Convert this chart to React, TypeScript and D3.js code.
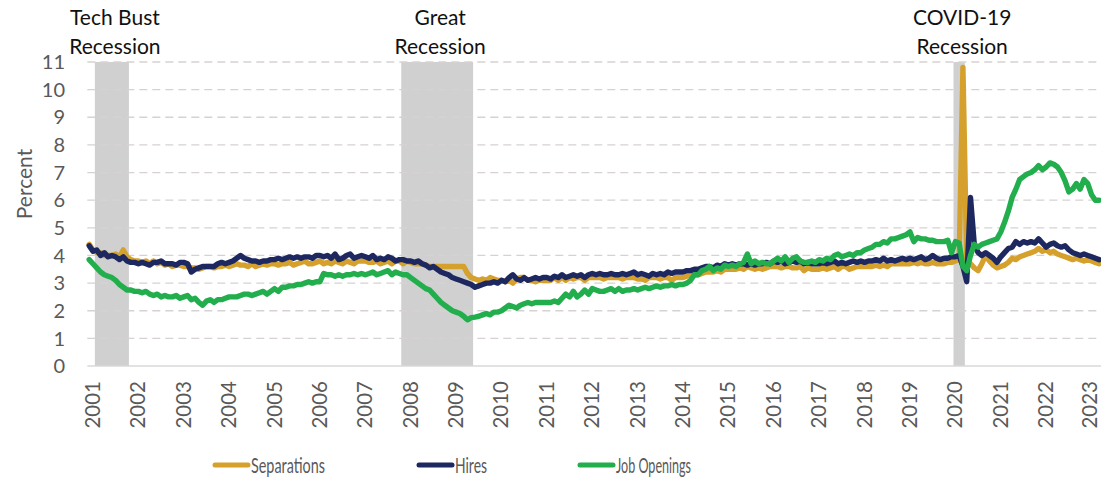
import React from "react";
import * as d3 from "d3";

// Monthly data, Dec 2000 .. Mar 2023 (268 months)
const separations: number[] = [
  4.4,
  4.2, 4.1, 4.1, 4.0, 4.0, 4.0, 4.05, 3.95, 4.2, 3.95, 3.85, 3.8,
  3.8, 3.75, 3.8, 3.7, 3.8, 3.7, 3.75, 3.65, 3.7, 3.6, 3.65, 3.65,
  3.6, 3.6, 3.55, 3.55, 3.5, 3.55, 3.6, 3.6, 3.55, 3.6, 3.6, 3.65,
  3.6, 3.65, 3.7, 3.65, 3.65, 3.6, 3.7, 3.6, 3.65, 3.7, 3.65, 3.7,
  3.7, 3.65, 3.7, 3.7, 3.75, 3.65, 3.7, 3.75, 3.8, 3.7, 3.7, 3.75,
  3.8, 3.7, 3.75, 3.7, 3.8, 3.75, 3.7, 3.8, 3.75, 3.7, 3.8, 3.8,
  3.8, 3.75, 3.75, 3.8, 3.7, 3.75, 3.8, 3.7, 3.8, 3.8, 3.7, 3.8,
  3.75, 3.7, 3.7, 3.7, 3.65, 3.6, 3.6, 3.6, 3.6, 3.6, 3.6, 3.6,
  3.6, 3.6, 3.6, 3.35, 3.2, 3.15, 3.1, 3.15, 3.1, 3.2, 3.15, 3.1,
  3.1, 3.05, 3.1, 3.0, 3.15, 3.2, 3.2, 3.1, 3.1, 3.05, 3.1, 3.1,
  3.1, 3.1, 3.2, 3.1, 3.2, 3.1, 3.2, 3.15, 3.2, 3.2, 3.1, 3.2,
  3.2, 3.2, 3.2, 3.15, 3.2, 3.2, 3.2, 3.2, 3.15, 3.2, 3.2, 3.2,
  3.15, 3.15, 3.1, 3.2, 3.2, 3.2, 3.15, 3.2, 3.2, 3.1, 3.2, 3.2,
  3.2, 3.25, 3.3, 3.3, 3.3, 3.35, 3.4, 3.4, 3.4, 3.45, 3.4, 3.5,
  3.5, 3.5, 3.5, 3.55, 3.5, 3.6, 3.55, 3.5, 3.55, 3.5, 3.55, 3.6,
  3.6, 3.6, 3.55, 3.6, 3.6, 3.55, 3.55, 3.6, 3.45, 3.55, 3.5, 3.5,
  3.5, 3.55, 3.5, 3.55, 3.6, 3.5, 3.6, 3.6, 3.5, 3.55, 3.6, 3.6,
  3.6, 3.6, 3.6, 3.65, 3.6, 3.65, 3.6, 3.7, 3.7, 3.7, 3.7, 3.7,
  3.7, 3.75, 3.7, 3.75, 3.7, 3.7, 3.75, 3.7, 3.7, 3.7, 3.75, 3.75,
  3.8, 3.85, 10.8, 3.75, 3.7, 3.55, 3.45, 3.7, 4.0, 3.8, 3.65, 3.55,
  3.6, 3.65, 3.75, 3.9, 3.85, 3.95, 4.0, 4.05, 4.1, 4.15, 4.25, 4.15,
  4.2, 4.1, 4.15, 4.05, 4.0, 3.95, 3.9, 3.85, 3.9, 3.85, 3.8, 3.85,
  3.8, 3.75, 3.7,
];

const hires: number[] = [
  4.35,
  4.15, 4.2, 4.0, 4.1, 3.95, 4.0, 3.95, 3.85, 3.95, 3.8, 3.75, 3.75,
  3.7, 3.75, 3.7, 3.65, 3.75, 3.75, 3.8, 3.7, 3.7, 3.7, 3.65, 3.75,
  3.75, 3.7, 3.4, 3.5, 3.55, 3.6, 3.6, 3.6, 3.6, 3.7, 3.75, 3.7,
  3.75, 3.8, 3.9, 4.0, 3.9, 3.85, 3.8, 3.8, 3.75, 3.8, 3.8, 3.85,
  3.85, 3.9, 3.85, 3.9, 3.95, 3.9, 3.95, 3.9, 3.95, 3.95, 3.9, 4.0,
  4.0, 3.95, 4.0, 3.9, 4.05, 3.85, 3.9, 4.0, 4.05, 3.9, 3.95, 4.0,
  3.95, 3.9, 4.0, 3.85, 3.9, 3.85, 3.95, 3.9, 3.8, 3.85, 3.85, 3.8,
  3.8, 3.75, 3.8, 3.7, 3.65, 3.55, 3.6, 3.5, 3.4, 3.35, 3.3, 3.2,
  3.15, 3.1, 3.05, 3.0, 2.95, 2.85, 2.9, 2.95, 3.0, 3.0, 3.05, 3.0,
  3.1, 3.05, 3.2, 3.3, 3.15, 3.1, 3.2, 3.1, 3.15, 3.2, 3.15, 3.2,
  3.2, 3.15, 3.25, 3.2, 3.3, 3.2, 3.25, 3.3, 3.25, 3.3, 3.2, 3.3,
  3.35, 3.3, 3.35, 3.3, 3.3, 3.35, 3.3, 3.3, 3.35, 3.3, 3.35, 3.4,
  3.3, 3.35, 3.3, 3.25, 3.35, 3.3, 3.35, 3.3, 3.4, 3.35, 3.4, 3.4,
  3.4, 3.45, 3.45, 3.5, 3.5, 3.55, 3.6, 3.6, 3.55, 3.65, 3.6, 3.7,
  3.65, 3.7, 3.65, 3.7, 3.7, 3.65, 3.7, 3.65, 3.7, 3.7, 3.75, 3.7,
  3.8, 3.75, 3.8, 3.7, 3.75, 3.8, 3.75, 3.8, 3.7, 3.75, 3.7, 3.7,
  3.7, 3.75, 3.7, 3.75, 3.8, 3.7, 3.75, 3.7, 3.75, 3.8, 3.75, 3.8,
  3.75, 3.8, 3.8, 3.85, 3.8, 3.9, 3.8, 3.85, 3.8, 3.85, 3.9, 3.85,
  3.9, 3.85, 3.9, 3.95, 3.85, 3.9, 4.0, 3.9, 3.85, 3.9, 3.9, 3.95,
  3.95, 4.0, 3.6, 3.05, 6.1, 4.4, 4.1, 4.0, 4.1, 4.0, 3.9, 3.75,
  3.95, 4.1, 4.25, 4.3, 4.5, 4.4, 4.5, 4.45, 4.5, 4.45, 4.6, 4.45,
  4.3, 4.4, 4.45, 4.35, 4.3, 4.35, 4.2, 4.1, 4.05, 4.0, 4.05, 4.0,
  3.95, 3.9, 3.85,
];

const jobOpenings: number[] = [
  3.85,
  3.7, 3.55, 3.4, 3.3, 3.25, 3.2, 3.1, 2.95, 2.85, 2.75, 2.75, 2.7,
  2.7, 2.65, 2.7, 2.6, 2.55, 2.6, 2.5, 2.55, 2.5, 2.5, 2.55, 2.45,
  2.5, 2.55, 2.4, 2.45, 2.3, 2.2, 2.35, 2.4, 2.3, 2.4, 2.4, 2.45,
  2.5, 2.5, 2.5, 2.55, 2.6, 2.6, 2.55, 2.6, 2.65, 2.7, 2.6, 2.7,
  2.8, 2.7, 2.85, 2.85, 2.9, 2.9, 2.95, 2.95, 3.0, 3.05, 3.0, 3.05,
  3.05, 3.35, 3.3, 3.3, 3.25, 3.3, 3.25, 3.3, 3.3, 3.35, 3.3, 3.35,
  3.3, 3.35, 3.4, 3.3, 3.35, 3.4, 3.45, 3.3, 3.4, 3.35, 3.3, 3.3,
  3.2, 3.1, 3.0, 2.9, 2.8, 2.75, 2.6, 2.45, 2.3, 2.2, 2.1, 2.0,
  1.95, 1.9, 1.8, 1.67, 1.75, 1.77, 1.8, 1.85, 1.9, 1.85, 1.95, 1.95,
  2.0, 2.1, 2.2, 2.15, 2.1, 2.2, 2.25, 2.3, 2.25, 2.3, 2.3, 2.3,
  2.3, 2.3, 2.35, 2.3, 2.45, 2.6, 2.5, 2.7, 2.5, 2.6, 2.75, 2.6,
  2.8, 2.75, 2.7, 2.7, 2.75, 2.8, 2.7, 2.8, 2.7, 2.75, 2.75, 2.8,
  2.75, 2.8, 2.85, 2.8, 2.85, 2.9, 2.85, 2.9, 2.9, 2.95, 2.9, 2.95,
  2.95, 3.0, 3.1, 3.3, 3.3, 3.45, 3.5, 3.6, 3.45, 3.55, 3.5, 3.65,
  3.6, 3.65, 3.6, 3.7, 3.75, 4.05, 3.7, 3.8, 3.7, 3.75, 3.7, 3.7,
  3.8, 3.9, 3.8, 3.95, 3.75, 3.9, 3.95, 3.8, 3.75, 3.75, 3.8, 3.75,
  3.85, 3.8, 3.9, 3.85, 4.0, 4.05, 3.95, 4.0, 4.05, 4.0, 4.1, 4.1,
  4.2, 4.25, 4.3, 4.4, 4.4, 4.5, 4.45, 4.6, 4.6, 4.65, 4.7, 4.75,
  4.85, 4.5, 4.65, 4.6, 4.6, 4.55, 4.55, 4.5, 4.5, 4.5, 4.55, 4.1,
  4.5, 4.45, 3.6, 3.45, 4.0, 4.4, 4.3, 4.4, 4.45, 4.5, 4.55, 4.6,
  4.85, 5.2, 5.6, 6.1, 6.4, 6.75, 6.85, 6.95, 7.0, 7.1, 7.25, 7.1,
  7.2, 7.35, 7.3, 7.2, 7.0, 6.7, 6.3, 6.4, 6.6, 6.4, 6.75, 6.6,
  6.2, 6.0, 6.0,
];

const yTicks: number[] = [0, 1, 2, 3, 4, 5, 6, 7, 8, 9, 10, 11];
const yearLabels: string[] = [
  "2001", "2002", "2003", "2004", "2005", "2006", "2007", "2008", "2009", "2010", "2011", "2012",
  "2013", "2014", "2015", "2016", "2017", "2018", "2019", "2020", "2021", "2022", "2023",
];

const recessionLabels: string[][] = [["Tech Bust", "Recession"], ["Great", "Recession"], ["COVID-19", "Recession"]];
const recessionPeaks: string[] = ["2001-03", "2007-12", "2020-02"];
const recessionTroughs: string[] = ["2001-11", "2009-06", "2020-04"];

const seriesNames: string[] = ["Separations", "Hires", "Job Openings"];
const seriesColors: string[] = ["#D5A12C", "#1D2860", "#22AE4D"];

const FIRST_YEAR = 2000;
const FIRST_MONTH = 12;
const monthIndex = (ym: string) => {
  const [y, m] = ym.split("-").map(Number);
  return (y - FIRST_YEAR) * 12 + (m - FIRST_MONTH);
};

const W = 1101;
const H = 478;
const LEFT = 87.3;
const RIGHT = 1101;
const TOP = 62;
const BOTTOM = 366;

const FONT = "Lato, 'Open Sans', 'Liberation Sans', sans-serif";
const GRAY = "#595959";

export default function App() {
  const n = hires.length;
  const x = d3.scaleBand<number>().domain(d3.range(n)).range([LEFT, RIGHT]).padding(0);
  const bw = x.bandwidth();
  const cx = (i: number) => (x(i) as number) + bw / 2;
  const y = d3.scaleLinear().domain([0, 11]).range([BOTTOM, TOP]);

  const line = d3
    .line<number>()
    .x((_, i) => cx(i))
    .y((d) => y(d));

  const allSeries = [separations, hires, jobOpenings];

  const legendX = [213, 417, 578];
  const legendTextLen = [74, 32, 75];

  return (
    <svg width={W} height={H} style={{ position: "absolute", left: 0, top: 0, background: "#fff" }} fontFamily={FONT}>
      {/* recession shading */}
      {recessionPeaks.map((p, k) => {
        const x0 = (x(monthIndex(p)) as number) - bw;
        const x1 = x(monthIndex(recessionTroughs[k])) as number;
        return <rect key={"r" + k} x={x0} y={TOP} width={x1 - x0} height={BOTTOM - TOP} fill="#D0D0D0" />;
      })}
      {/* gridlines */}
      {yTicks.filter((t) => t > 0).map((t) => (
        <line key={"g" + t} x1={LEFT} x2={RIGHT} y1={y(t)} y2={y(t)} stroke="#D6D2D1" strokeWidth={1.3} strokeDasharray="8,5" />
      ))}
      <line x1={LEFT} x2={RIGHT} y1={y(0)} y2={y(0)} stroke="#D9D9D9" strokeWidth={1.5} />
      {/* y tick labels */}
      {yTicks.map((t) => (
        <text key={"yt" + t} x={65} y={y(t)} dy="0.36em" textAnchor="end" fontSize={20} fill={GRAY}>
          {t}
        </text>
      ))}
      <text transform={`translate(24,184) rotate(-90)`} textAnchor="middle" dy="0.36em" fontSize={21} fill={GRAY}>
        Percent
      </text>
      {/* x labels */}
      {yearLabels.map((yl) => {
        const idx = monthIndex(`${yl}-01`);
        return (
          <text key={"x" + yl} transform={`translate(${Math.min(cx(idx), 1090)},381) rotate(-90)`} textAnchor="end" dy="0.34em" fontSize={20.5} fill={GRAY}>
            {yl}
          </text>
        );
      })}
      {/* lines */}
      {allSeries.map((s, k) => (
        <path key={"l" + k} d={line(s) || ""} fill="none" stroke={seriesColors[k]} strokeWidth={5.4} strokeLinejoin="round" strokeLinecap="round" />
      ))}
      {/* recession labels */}
      {recessionPeaks.map((p, k) => {
        const x0 = (x(monthIndex(p)) as number) - bw;
        const x1 = x(monthIndex(recessionTroughs[k])) as number;
        const mid = (x0 + x1) / 2 + 3;
        return (
          <text key={"rl" + k} x={mid} textAnchor="middle" fontSize={21} fill="#111">
            <tspan x={mid} y={25}>{recessionLabels[k][0]}</tspan>
            <tspan x={mid} y={54}>{recessionLabels[k][1]}</tspan>
          </text>
        );
      })}
      {/* legend */}
      {seriesNames.map((nm, k) => (
        <g key={"lg" + k}>
          <line x1={legendX[k] + 2} x2={legendX[k] + 35} y1={465} y2={465} stroke={seriesColors[k]} strokeWidth={5} strokeLinecap="round" />
          <text x={legendX[k] + 38} y={465} dy="0.36em" fontSize={21} fill={GRAY} textLength={legendTextLen[k]} lengthAdjust="spacingAndGlyphs">
            {nm}
          </text>
        </g>
      ))}
    </svg>
  );
}
